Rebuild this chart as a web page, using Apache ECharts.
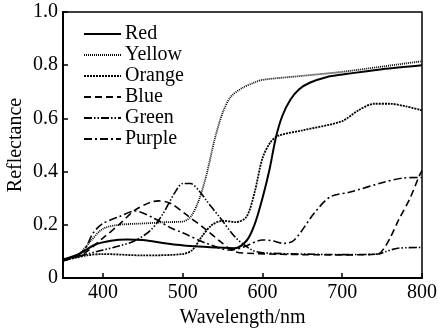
<!DOCTYPE html>
<html>
<head>
<meta charset="utf-8">
<script src="https://cdn.jsdelivr.net/npm/echarts@6/dist/echarts.min.js"></script>
<style>
  html, body { margin: 0; padding: 0; background: #fff; }
  #chart { width: 438px; height: 328px; }
</style>
</head>
<body>
<div id="chart"></div>
<script>
// Reflectance spectra
const redNm = [350, 370, 390, 410, 430, 450, 480, 510, 540, 565, 580, 590, 600, 609, 617, 625, 635, 646, 660, 680, 700, 750, 800];
const redR = [0.07, 0.09, 0.125, 0.14, 0.145, 0.143, 0.13, 0.12, 0.115, 0.112, 0.14, 0.2, 0.3, 0.41, 0.53, 0.61, 0.67, 0.71, 0.735, 0.755, 0.765, 0.785, 0.80];

const yellowNm = [350, 370, 385, 400, 420, 450, 480, 500, 510, 520, 530, 540, 550, 560, 575, 590, 600, 650, 700, 750, 800];
const yellowR = [0.065, 0.09, 0.14, 0.185, 0.2, 0.205, 0.21, 0.212, 0.23, 0.29, 0.39, 0.52, 0.62, 0.68, 0.715, 0.735, 0.745, 0.76, 0.775, 0.795, 0.815];

const orangeNm = [350, 380, 400, 450, 500, 512, 525, 537, 550, 567, 580, 590, 600, 610, 620, 650, 700, 720, 740, 760, 780, 800];
const orangeR = [0.065, 0.085, 0.09, 0.085, 0.09, 0.105, 0.16, 0.2, 0.215, 0.21, 0.23, 0.32, 0.45, 0.51, 0.535, 0.555, 0.59, 0.63, 0.655, 0.655, 0.645, 0.63];

const blueNm = [350, 375, 400, 420, 440, 460, 470, 485, 505, 530, 546, 565, 590, 650, 700, 745, 752, 760, 771, 785, 796, 800];
const blueR = [0.065, 0.09, 0.15, 0.2, 0.255, 0.285, 0.29, 0.28, 0.237, 0.18, 0.14, 0.1, 0.092, 0.088, 0.087, 0.09, 0.11, 0.15, 0.22, 0.3, 0.38, 0.405];

const greenNm = [350, 380, 400, 420, 440, 460, 475, 490, 500, 510, 520, 530, 546, 567, 587, 600, 650, 700, 745, 755, 770, 800];
const greenR = [0.065, 0.09, 0.105, 0.12, 0.14, 0.18, 0.24, 0.32, 0.355, 0.355, 0.33, 0.29, 0.23, 0.15, 0.105, 0.095, 0.09, 0.088, 0.09, 0.1, 0.112, 0.115];

const purpleNm = [350, 375, 388, 400, 420, 440, 467, 484, 500, 530, 559, 575, 600, 612, 627, 640, 665, 685, 710, 752, 777, 800];
const purpleR = [0.065, 0.1, 0.17, 0.205, 0.23, 0.252, 0.22, 0.19, 0.17, 0.13, 0.105, 0.115, 0.143, 0.14, 0.13, 0.143, 0.244, 0.305, 0.323, 0.36, 0.376, 0.378];

const xTicks = [400, 500, 600, 700, 800];

const FONT = '"Liberation Serif", "DejaVu Serif", serif';
const INK = '#000';

function pairs(xs, ys) {
  return xs.map((x, i) => [x, ys[i]]);
}

function line(name, xs, ys, type, width) {
  return {
    name: name,
    type: 'line',
    data: pairs(xs, ys),
    symbol: 'none',
    smooth: 0.3,
    lineStyle: { color: INK, width: width, type: type },
    emphasis: { disabled: true }
  };
}

const chart = echarts.init(document.getElementById('chart'), null, { renderer: 'canvas' });

chart.setOption({
  backgroundColor: '#fff',
  animation: false,
  color: [INK],
  textStyle: { fontFamily: FONT, color: INK },
  grid: {
    left: 63, right: 16, top: 12, bottom: 50,
    outerBoundsMode: 'none',
    containLabel: false,
    show: true, borderColor: INK, borderWidth: 1.5, backgroundColor: 'transparent'
  },
  legend: {
    orient: 'vertical',
    left: 83, top: 24,
    padding: 0,
    itemWidth: 37, itemHeight: 14, itemGap: 1,
    // hide the marker dot; keep only the line sample
    itemStyle: { opacity: 0 },
    textStyle: { fontFamily: FONT, fontSize: 20, lineHeight: 20, color: INK, padding: [0, 0, 0, -1] },
    data: ['Red', 'Yellow', 'Orange', 'Blue', 'Green', 'Purple']
  },
  xAxis: {
    type: 'value',
    min: 350, max: 800,
    name: 'Wavelength/nm',
    nameLocation: 'middle',
    nameGap: 30,
    nameTextStyle: { fontFamily: FONT, fontSize: 20, color: INK },
    axisLine: { lineStyle: { color: INK, width: 2 } },
    axisTick: { inside: true, length: 5, customValues: xTicks, lineStyle: { color: INK, width: 1.5 } },
    axisLabel: { customValues: xTicks, fontFamily: FONT, fontSize: 20, color: INK, margin: 5 },
    splitLine: { show: false }
  },
  yAxis: {
    type: 'value',
    min: 0, max: 1, interval: 0.2,
    name: 'Reflectance',
    nameLocation: 'middle',
    nameGap: 37,
    nameMoveOverlap: false,
    nameTextStyle: { fontFamily: FONT, fontSize: 20, color: INK },
    axisLine: { show: true, lineStyle: { color: INK, width: 2 } },
    axisTick: { inside: true, length: 5, lineStyle: { color: INK, width: 1.5 } },
    axisLabel: {
      fontFamily: FONT, fontSize: 20, color: INK, margin: 5,
      formatter: v => (v === 0 ? '0' : v.toFixed(1))
    },
    splitLine: { show: false }
  },
  series: [
    line('Red', redNm, redR, 'solid', 2),
    line('Yellow', yellowNm, yellowR, [1, 1], 1.8),
    line('Orange', orangeNm, orangeR, [2, 1], 1.8),
    line('Blue', blueNm, blueR, [7, 4], 1.6),
    line('Green', greenNm, greenR, [8, 2, 1.5, 2, 1.5, 2], 1.6),
    line('Purple', purpleNm, purpleR, [8, 3, 2, 3], 1.6)
  ]
});
</script>
</body>
</html>
